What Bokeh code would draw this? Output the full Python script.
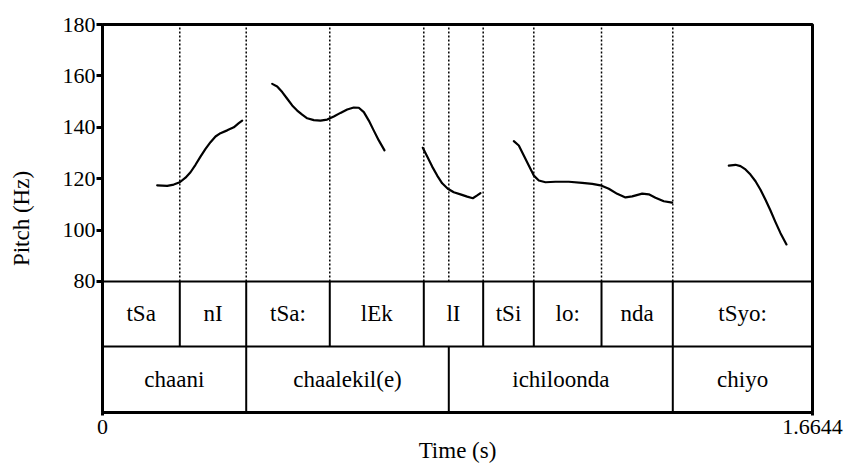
from bokeh.plotting import figure
from bokeh.models import Range1d, FixedTicker, Label
from bokeh.embed import file_html
from bokeh.resources import INLINE

# ---------------- data ----------------
t_end = 1.6644
y_ticks = [80, 100, 120, 140, 160, 180]
x_ticks = [0, 1.6644]

seg1_t = [0.1282, 0.1517, 0.1671, 0.1812, 0.1946, 0.2063, 0.2180, 0.2297, 0.2415,
          0.2532, 0.2649, 0.2766, 0.2923, 0.3078, 0.3195, 0.3275]
seg1_hz = [117.4, 117.2, 117.7, 118.6, 120.4, 122.5, 125.4, 128.6, 131.6,
           134.2, 136.4, 137.7, 138.8, 140.0, 141.6, 142.6]

seg2_t = [0.3978, 0.4095, 0.4213, 0.4330, 0.4447, 0.4564, 0.4681, 0.4799, 0.4953,
          0.5110, 0.5267, 0.5422, 0.5579, 0.5736, 0.5891, 0.6008, 0.6126, 0.6243,
          0.6360, 0.6477, 0.6611]
seg2_hz = [156.9, 155.9, 153.7, 151.1, 148.5, 146.5, 144.9, 143.5, 142.8,
           142.6, 143.0, 144.2, 145.6, 146.9, 147.7, 147.6, 145.9, 142.6,
           138.7, 134.9, 131.0]

seg3_t = [0.7508, 0.7612, 0.7729, 0.7846, 0.7963, 0.8095, 0.8235, 0.8392, 0.8549,
          0.8681, 0.8784, 0.8861]
seg3_hz = [132.0, 128.6, 124.7, 121.2, 118.2, 116.1, 114.7, 113.9, 113.0,
           112.4, 113.5, 114.4]

seg4_t = [0.9642, 0.9759, 0.9876, 0.9993, 1.0111, 1.0228, 1.0385, 1.0619, 1.0931,
          1.1245, 1.1480, 1.1674, 1.1869, 1.2066, 1.2260, 1.2417, 1.2652, 1.2806,
          1.2963, 1.3158, 1.3355]
seg4_hz = [134.6, 132.9, 129.0, 125.1, 121.2, 119.3, 118.6, 118.8, 118.8,
           118.4, 118.0, 117.4, 116.1, 114.1, 112.7, 113.1, 114.2, 113.9,
           112.6, 111.2, 110.7]

seg5_t = [1.4682, 1.4839, 1.4956, 1.5073, 1.5190, 1.5308, 1.5425, 1.5542, 1.5659,
          1.5776, 1.5894, 1.6034]
seg5_hz = [125.1, 125.4, 124.9, 123.6, 121.6, 119.0, 115.7, 111.8, 107.6,
           103.1, 98.8, 94.4]

tier1_labels = ["tSa", "nI", "tSa:", "lEk", "lI", "tSi", "lo:", "nda", "tSyo:"]
tier1_bounds = [0, 0.1812, 0.3369, 0.5328, 0.7532, 0.8924, 1.0111, 1.1698, 1.3369, 1.6644]

tier2_labels = ["chaani", "chaalekil(e)", "ichiloonda", "chiyo"]
tier2_bounds = [0, 0.3369, 0.8118, 1.3369, 1.6644]

# ---------------- layout constants ----------------
Y_LO, Y_HI = 29.0, 180.0
TIER_TOP = 80.0
TIER_MID = 54.7
FONT = "'Liberation Serif', 'Times New Roman', serif"
FONT_T = "Times New Roman"

p = figure(width=848, height=470, output_backend="svg", toolbar_location=None,
           x_range=Range1d(0, t_end), y_range=Range1d(Y_LO, Y_HI),
           min_border_left=102, min_border_right=36, min_border_top=24,
           min_border_bottom=58)
p.grid.visible = False
p.outline_line_color = "black"
p.outline_line_width = 3
p.background_fill_color = "white"
p.border_fill_color = "white"

# dotted boundaries in pitch area
bset = sorted(set(tier1_bounds[1:-1]) | set(tier2_bounds[1:-1]))
p.segment(x0=bset, y0=[TIER_TOP] * len(bset), x1=bset, y1=[Y_HI] * len(bset),
          line_color="black", line_width=1.5, line_dash="2 2")

# tier horizontal lines
p.segment(x0=[0, 0], y0=[TIER_TOP, TIER_MID], x1=[t_end, t_end], y1=[TIER_TOP, TIER_MID],
          line_color="black", line_width=2)

# tier vertical lines
b1 = tier1_bounds[1:-1]
p.segment(x0=b1, y0=[TIER_MID] * len(b1), x1=b1, y1=[TIER_TOP] * len(b1),
          line_color="black", line_width=2)
b2 = tier2_bounds[1:-1]
p.segment(x0=b2, y0=[Y_LO] * len(b2), x1=b2, y1=[TIER_MID] * len(b2),
          line_color="black", line_width=2)

# tier texts
mid1 = [(a + b) / 2 for a, b in zip(tier1_bounds[:-1], tier1_bounds[1:])]
mid2 = [(a + b) / 2 for a, b in zip(tier2_bounds[:-1], tier2_bounds[1:])]
tier_y1 = (TIER_TOP + TIER_MID) / 2
tier_y2 = (TIER_MID + Y_LO) / 2
for xm, ym, txt in ([(m, tier_y1, s) for m, s in zip(mid1, tier1_labels)] +
                    [(m, tier_y2, s) for m, s in zip(mid2, tier2_labels)]):
    p.add_layout(Label(x=xm, y=ym, text=txt, text_font=FONT_T, text_font_size="23px",
                       text_align="center", text_baseline="middle",
                       text_color="black"))

# pitch contours
for ts, hz in [(seg1_t, seg1_hz), (seg2_t, seg2_hz), (seg3_t, seg3_hz),
               (seg4_t, seg4_hz), (seg5_t, seg5_hz)]:
    p.line(ts, hz, line_color="black", line_width=2.2, line_join="round", line_cap="round")

# y axis
ya = p.yaxis[0]
ya.ticker = FixedTicker(ticks=y_ticks)
ya.axis_line_color = None
ya.major_tick_out = 6
ya.major_tick_in = 0
ya.major_tick_line_width = 3
ya.minor_tick_line_color = None
ya.major_label_text_font = FONT
ya.major_label_text_font_size = "22px"
ya.major_label_text_color = "black"
ya.major_label_standoff = 1
ya.axis_label = "Pitch (Hz)"
ya.axis_label_text_font = FONT
ya.axis_label_text_font_size = "23px"
ya.axis_label_text_font_style = "normal"
ya.axis_label_text_color = "black"
ya.axis_label_standoff = 26

# x axis
xa = p.xaxis[0]
xa.ticker = FixedTicker(ticks=x_ticks)
xa.major_label_overrides = {0: "0", 1.6644: "1.6644"}
xa.axis_line_color = None
xa.major_tick_out = 3
xa.major_tick_in = 0
xa.major_tick_line_width = 3
xa.minor_tick_line_color = None
xa.major_label_text_font = FONT
xa.major_label_text_font_size = "22px"
xa.major_label_text_color = "black"
xa.major_label_standoff = 4
xa.axis_label = "Time (s)"
xa.axis_label_text_font = FONT
xa.axis_label_text_font_size = "23px"
xa.axis_label_text_font_style = "normal"
xa.axis_label_text_color = "black"
xa.axis_label_standoff = 1

open("out.html", "w").write(file_html(p, INLINE))
